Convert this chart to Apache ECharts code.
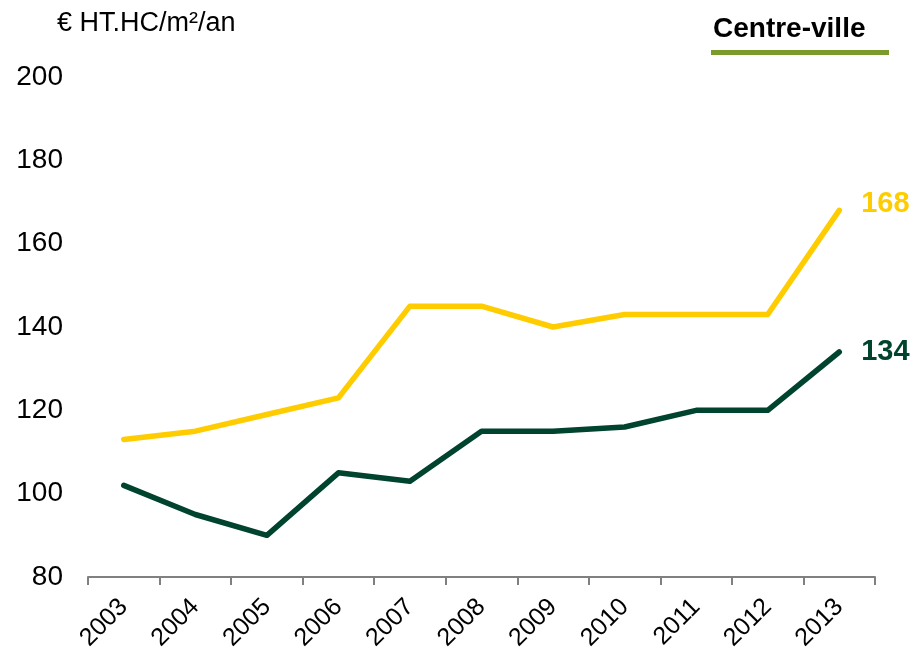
<!DOCTYPE html>
<html>
<head>
<meta charset="utf-8">
<script src="https://cdn.jsdelivr.net/npm/echarts@6/dist/echarts.min.js"></script>
<style>
  html, body { margin: 0; padding: 0; background: #fff; }
  #chart { width: 919px; height: 649px; }
</style>
</head>
<body>
<div id="chart"></div>
<script>
// Rental price per m² per year, city centre
const years = ['2003','2004','2005','2006','2007','2008','2009','2010','2011','2012','2013'];
const upperSeries = [113, 115, 119, 123, 145, 145, 140, 143, 143, 143, 168];
const lowerSeries = [102, 95, 90, 105, 103, 115, 115, 116, 120, 120, 134];
const yTicks = [80, 100, 120, 140, 160, 180, 200];

const YELLOW = '#FFCC00';
const DARK_GREEN = '#00432E';
const FONT = 'Liberation Sans, Arial, sans-serif';

const chart = echarts.init(document.getElementById('chart'), null, { renderer: 'canvas' });

function endLabel(color, dy) {
  return {
    show: true,
    formatter: p => String(p.value),
    distance: 22,
    offset: [0, dy],
    color: color,
    fontFamily: FONT,
    fontWeight: 'bold',
    fontSize: 29
  };
}

chart.setOption({
  animation: false,
  backgroundColor: '#fff',
  grid: { left: 88, right: 44, top: 77, bottom: 72, containLabel: false, outerBoundsMode: 'none' },
  graphic: [
    {
      type: 'text', x: 57, y: 24,
      style: { text: '€ HT.HC/m²/an', font: '27px ' + FONT, fill: '#000', verticalAlign: 'middle' }
    },
    {
      type: 'text', x: 713, y: 29,
      style: { text: 'Centre-ville', font: 'bold 28px ' + FONT, fill: '#000', verticalAlign: 'middle' }
    },
    {
      type: 'rect', shape: { x: 711, y: 50, width: 178, height: 5 },
      style: { fill: '#7A9A2C' }
    }
  ],
  xAxis: {
    type: 'category',
    data: years,
    boundaryGap: true,
    axisLine: { show: true, lineStyle: { color: '#808080', width: 2 } },
    axisTick: { show: true, length: 8, lineStyle: { color: '#808080', width: 2 } },
    axisLabel: {
      rotate: 45, margin: 26, color: '#000',
      fontFamily: FONT, fontSize: 25
    },
    splitLine: { show: false }
  },
  yAxis: {
    type: 'value',
    min: yTicks[0],
    max: yTicks[yTicks.length - 1],
    interval: yTicks[1] - yTicks[0],
    axisLine: { show: false },
    axisTick: { show: false },
    splitLine: { show: false },
    axisLabel: { color: '#000', fontFamily: FONT, fontSize: 28, margin: 25 }
  },
  series: [
    {
      type: 'line', data: upperSeries, symbol: 'none',
      lineStyle: { color: YELLOW, width: 5.5, cap: 'round', join: 'round' },
      itemStyle: { color: YELLOW },
      endLabel: endLabel(YELLOW, -6)
    },
    {
      type: 'line', data: lowerSeries, symbol: 'none',
      lineStyle: { color: DARK_GREEN, width: 5.5, cap: 'round', join: 'round' },
      itemStyle: { color: DARK_GREEN },
      endLabel: endLabel(DARK_GREEN, 0)
    }
  ]
});
</script>
</body>
</html>
